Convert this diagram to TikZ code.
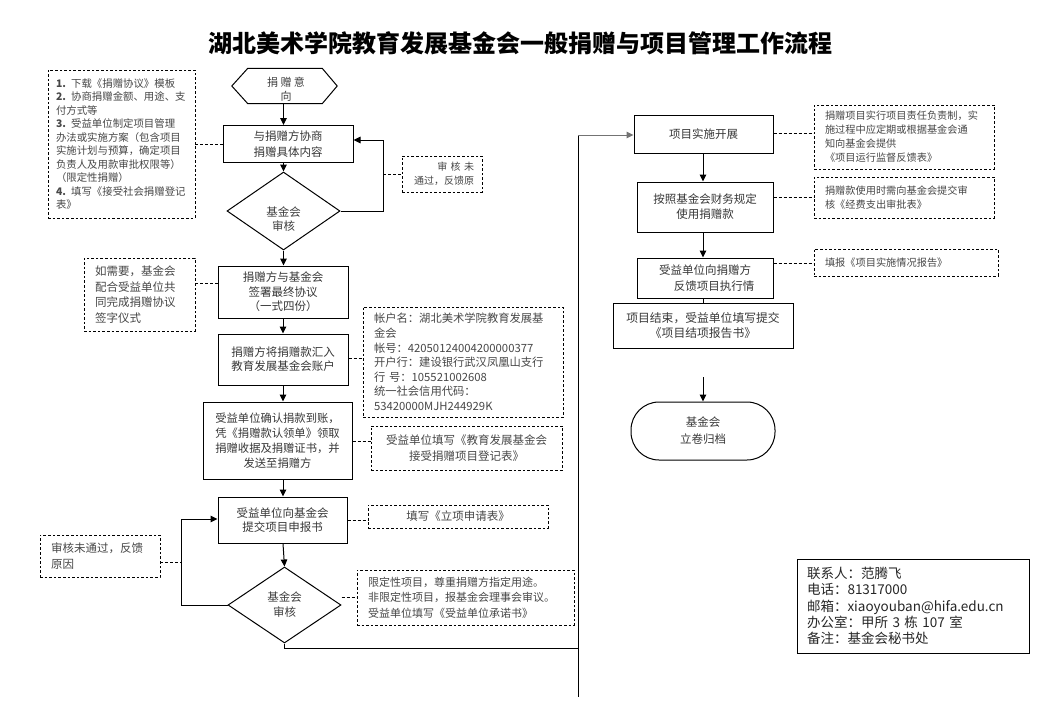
\documentclass[tikz,border=0pt]{standalone}
\usepackage{fontspec}
\setmainfont{Noto Sans CJK SC}
\usetikzlibrary{arrows.meta,shapes.geometric}
\newcommand\fsz[2]{\fontsize{#1}{#2}\selectfont}
\tikzset{
  box/.style={draw, line width=1pt, inner sep=0pt, align=center, text=black!78},
  nbox/.style={draw, line width=0.8pt, dash pattern=on 2.6pt off 2pt, inner sep=0pt, text=black!72},
  arr/.style={line width=1pt, -{Triangle[length=7pt,width=6.5pt]}},
  ln/.style={line width=1pt},
  dl/.style={line width=0.8pt, dash pattern=on 3pt off 2pt},
}
\begin{document}
\begin{tikzpicture}[x=1pt,y=-1pt]
\useasboundingbox (0,0) rectangle (1040,720);
\fill[white] (0,0) rectangle (1040,720);

% title
\node[font=\fsz{24}{28}\bfseries] (title) at (520,43) {湖北美术学院教育发展基金会一般捐赠与项目管理工作流程};

% ---------------- left column ----------------
\node[minimum width=105pt, minimum height=35pt, inner sep=0pt] (hex) at (284.5,86) {};
\draw[ln] (hex.west) -- ([xshift=16pt]hex.north west) -- ([xshift=-15pt]hex.north east) -- (hex.east)
  -- ([xshift=-15pt]hex.south east) -- ([xshift=16pt]hex.south west) -- cycle;
\node[font=\fsz{11}{14}, text=black!75, align=center] (hextxt) at (286,89) {捐 赠 意\\向};

\node[box, minimum width=130pt, minimum height=37pt, font=\fsz{11.5}{16}] (b1) at (288,144) {与捐赠方协商\\捐赠具体内容};

\node[draw, diamond, line width=1pt, minimum width=113pt, minimum height=78pt, inner sep=0pt] (d1) at (283.5,211) {};
\node[font=\fsz{11.5}{14}, text=black!75, align=center] (d1txt) at (283.5,219) {基金会\\审核};

\node[box, minimum width=130pt, minimum height=52pt, font=\fsz{11.5}{14.5}] (b2) at (283,292) {捐赠方与基金会\\签署最终协议\\（一式四份）};

\node[box, minimum width=130pt, minimum height=51pt, font=\fsz{11.5}{14}] (b3) at (283,359.5) {捐赠方将捐赠款汇入\\教育发展基金会账户};

\node[box, minimum width=149pt, minimum height=77pt, font=\fsz{11.3}{15}] (b4) at (277.5,440.5) {受益单位确认捐款到账，\\凭《捐赠款认领单》领取\\捐赠收据及捐赠证书，并\\发送至捐赠方};

\node[box, minimum width=129pt, minimum height=46pt, font=\fsz{11.5}{14.5}] (b5) at (282.5,520) {受益单位向基金会\\提交项目申报书};

\node[draw, diamond, line width=1pt, minimum width=113pt, minimum height=76pt, inner sep=0pt,
      font=\fsz{11.5}{15}, text=black!75, align=center] (d2) at (284.5,605) {基金会\\审核};

% notes, left column
\node[nbox, minimum width=147pt, minimum height=148pt, text width=131pt, inner xsep=8pt,
      align=left, font=\fsz{10.4}{13.5}] (nA) at (121.5,144)
 {{\bfseries 1.} 下载《捐赠协议》模板\\
  {\bfseries 2.} 协商捐赠金额、用途、支\\
  付方式等\\
  {\bfseries 3.} 受益单位制定项目管理\\
  办法或实施方案（包含项目\\
  实施计划与预算，确定项目\\
  负责人及用款审批权限等）\\
  （限定性捐赠）\\
  {\bfseries 4.} 填写《接受社会捐赠登记\\
  表》};

\node[nbox, minimum width=80pt, minimum height=36pt, text width=64pt, inner xsep=8pt,
      align=right, font=\fsz{10}{14}] (fb1) at (442,174) {审 核 未\\通过，反馈原};

\node[nbox, minimum width=111pt, minimum height=73pt, text width=89pt, inner xsep=11pt,
      align=left, font=\fsz{11.5}{15.5}] (nB) at (139.5,294.5) {如需要，基金会\\配合受益单位共\\同完成捐赠协议\\签字仪式};

\node[nbox, minimum width=200pt, minimum height=110pt, text width=178pt, inner xsep=11pt,
      align=left, font=\fsz{11.3}{14.6}] (nC) at (463,362)
 {帐户名：湖北美术学院教育发展基\\
  金会\\
  帐号：42050124004200000377\\
  开户行：建设银行武汉凤凰山支行\\
  行\ 号：105521002608\\
  统一社会信用代码：\\
  53420000MJH244929K};

\node[nbox, minimum width=191pt, minimum height=44pt, align=center, font=\fsz{11.5}{16}] (nD) at (466.5,448)
 {受益单位填写《教育发展基金会\\接受捐赠项目登记表》};

\node[nbox, minimum width=180pt, minimum height=23pt, font=\fsz{11.5}{14}] (nE) at (458,516.5) {填写《立项申请表》};

\node[nbox, minimum width=120pt, minimum height=42pt, text width=98pt, inner xsep=11pt,
      align=left, font=\fsz{11.5}{15.5}] (nF) at (100,556) {审核未通过，反馈\\原因};

\node[nbox, minimum width=217pt, minimum height=55pt, text width=195pt, inner xsep=11pt,
      align=left, font=\fsz{11}{15.5}] (nG) at (465.5,597.5)
 {限定性项目，尊重捐赠方指定用途。\\非限定性项目，报基金会理事会审议。\\受益单位填写《受益单位承诺书》};

% ---------------- right column ----------------
\node[box, minimum width=139pt, minimum height=38pt, font=\fsz{11.5}{14}] (r1) at (703.5,134) {项目实施开展};
\node[box, minimum width=136pt, minimum height=50pt, font=\fsz{11.5}{15}] (r2) at (705,207) {按照基金会财务规定\\使用捐赠款};
\node[box, minimum width=136pt, minimum height=40pt, font=\fsz{11.5}{16}] (r3) at (705,278) {受益单位向捐赠方\\\hspace*{1.6em}反馈项目执行情};
\node[box, minimum width=180pt, minimum height=45pt, font=\fsz{11.8}{15}] (r4) at (703,325.5) {项目结束，受益单位填写提交\\《项目结项报告书》};
\node[draw, line width=1pt, rounded corners=28pt, minimum width=144pt, minimum height=58pt, inner sep=0pt,
      align=center, font=\fsz{11.5}{17}, text=black!78] (term) at (703,431) {基金会\\立卷归档};

\node[nbox, minimum width=180pt, minimum height=64pt, text width=158pt, inner xsep=11pt,
      align=left, font=\fsz{10.2}{14}] (n1) at (904,137)
 {捐赠项目实行项目责任负责制，实\\施过程中应定期或根据基金会通\\知向基金会提供\\《项目运行监督反馈表》};
\node[nbox, minimum width=180pt, minimum height=41pt, text width=158pt, inner xsep=11pt,
      align=left, font=\fsz{10.2}{14}] (n2) at (904,197.5)
 {捐赠款使用时需向基金会提交审\\核《经费支出审批表》};
\node[nbox, minimum width=184pt, minimum height=27pt, text width=162pt, inner xsep=11pt,
      align=left, font=\fsz{10.2}{14}] (n3) at (906,262.5) {填报《项目实施情况报告》};

% contact box
\node[draw, line width=1pt, minimum width=232pt, minimum height=94pt, text width=212pt, inner xsep=10pt,
      inner ysep=0pt, align=left, font=\fsz{13.5}{16.4}, text=black!85] (contact) at (913,606)
 {联系人：范腾飞\\电话：81317000\\邮箱：xiaoyouban@hifa.edu.cn\\办公室：甲所 3 栋 107 室\\备注：基金会秘书处};

% ---------------- connectors ----------------
\coordinate (j1) at (383,140);
\coordinate (j2) at (181,519);
\coordinate (c1) at (578,648);
\coordinate (ctop) at (578,135);
\coordinate (cbot) at (578,697);
\coordinate (fa) at (703,377);

\draw[arr] (hex.south -| d1.north) -- (b1.north -| d1.north);
\draw[arr] (b1.south -| d1.north) -- (d1.north);
\draw[arr] (d1.south) -- (b2.north -| d1.south);
\draw[arr] (b2.south) -- (b3.north);
\draw[arr] (b3.south) -- (b3.south |- b4.north);
\draw[arr] (b3.south |- b4.south) -- (b3.south |- b5.north);
\draw[arr] (b3.south |- b5.south) -- (d2.north);
\draw[arr] (d1.east) -| (j1) -- (j1 -| b1.east);
\draw[arr] (d2.west) -| (j2) -- (j2 -| b5.west);
\draw[ln] (d2.south) |- (c1);
\draw[ln] (ctop) -- (cbot);
\draw[arr, draw=black!55] (ctop) -- (ctop -| r1.west);
\draw[arr] (r1.south -| fa) -- (r2.north -| fa);
\draw[arr] (r2.south -| fa) -- (r3.north -| fa);
\draw[ln] (r3.south -| fa) -- (r4.north -| fa);
\draw[arr] (fa) -- (term.north -| fa);

% dashed connectors
\draw[dl] (nA.east |- b1) -- (b1.west);
\draw[dl] (j1 |- fb1.west) -- (fb1.west);
\draw[dl] (nB.east |- 0,283) -- (b2.west |- 0,283);
\draw[dl] (b3.east |- 0,358) -- (nC.west |- 0,358);
\draw[dl] (b4.east |- 0,441) -- (nD.west |- 0,441);
\draw[dl] (b5.east) -- (nE.west |- b5.east);
\draw[dl] (nF.east |- 0,562) -- (j2 |- 0,562);
\draw[dl] (d2.east |- 0,597) -- (nG.west |- 0,597);
\draw[dl] (r1.east |- 0,133) -- (n1.west |- 0,133);
\draw[dl] (r2.east |- 0,197) -- (n2.west |- 0,197);
\draw[dl] (r3.east |- 0,263) -- (n3.west |- 0,263);
\end{tikzpicture}
\end{document}
